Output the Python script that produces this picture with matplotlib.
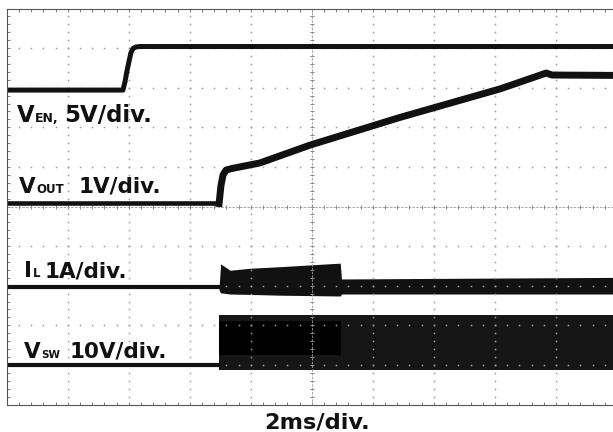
import numpy as np
import matplotlib.pyplot as plt

W, H = 613, 432  # output size in pixels (dpi 100)

# screen units: time in ms (2 ms/div, 10 div), vertical in divisions (0 = centre)
t_ven = [0, 3.81, 3.88, 3.94, 4.01, 4.07, 4.14, 4.24, 4.37, 20]
ven = [2.94, 2.94, 3.16, 3.42, 3.67, 3.88, 3.99, 4.03, 4.04, 4.04]

t_vout_off = [0, 6.96]
vout_off = [0.076, 0.076]
t_vout = [6.96, 7.02, 7.09, 7.19, 7.38, 8.30, 9.94, 12.89, 16.17, 17.68, 17.87, 20]
vout = [0.076, 0.52, 0.80, 0.92, 0.96, 1.10, 1.55, 2.25, 2.97, 3.37, 3.32, 3.31]

t_il_off = [0, 6.96]
il_off = [-2.04, -2.04]
t_il = [6.96, 7.01, 7.32, 7.97, 8.96, 10.93, 10.97, 20]
il_top = [-2.04, -1.45, -1.61, -1.56, -1.52, -1.43, -1.83, -1.79]
il_bot = [-2.12, -2.18, -2.21, -2.22, -2.24, -2.26, -2.21, -2.21]

t_vsw_off = [0, 6.96]
vsw_off = [-4.0, -4.0]
t_vsw = [6.96, 20]
vsw_top = [-2.73, -2.73]
vsw_bot = [-4.14, -4.14]
t_vsw_core = [6.96, 10.95]
vsw_core_top = [-2.88, -2.88]
vsw_core_bot = [-3.75, -3.75]

labels = [
    # (x px, baseline px, main, sub, rest, rest x px, size, sub size)
    (17, 121.7, "V", "EN,", "5V/div.", 64, 16.5, 9),
    (19, 192.7, "V", "OUT", "1V/div.", 79, 15.5, 8.5),
    (24, 277.3, "I", "L", "1A/div.", 45, 15.5, 8.5),
    (24, 357.7, "V", "SW", "10V/div.", 70, 15.5, 7.5),
]
xlabel = "2ms/div."

trace = '#111111'
grid_c = '#9a9a9a'

fig = plt.figure(figsize=(W / 100, H / 100), dpi=100)
left, right, top, bottom = 6.7, 617.0, 8.5, 404.5
ax = fig.add_axes([left / W, 1 - bottom / H, (right - left) / W, (bottom - top) / H])
ax.set_xlim(0, 20)
ax.set_ylim(-5, 5)

# graticule
ax.set_xticks(np.arange(0, 21, 2))
ax.set_yticks(np.arange(-5, 6, 1))
ax.set_xticks(np.arange(0, 20.01, 0.4), minor=True)
ax.set_yticks(np.arange(-5, 5.01, 0.2), minor=True)
ax.tick_params(which='both', direction='in', top=True, right=True,
               labelbottom=False, labelleft=False, color='#666666', width=0.6)
ax.tick_params(which='major', length=2.5)
ax.tick_params(which='minor', length=2.0)
for s in ax.spines.values():
    s.set_color('#555555')
    s.set_linewidth(0.8)

ymin = np.arange(-5, 5.01, 0.2)
xmin = np.arange(0, 20.01, 0.4)
for gx in range(2, 20, 2):
    if gx == 10:
        continue
    ax.plot(np.full_like(ymin, gx), ymin, ls='none', marker='s', ms=1.1,
            mew=0, color=grid_c)
for gy in range(-4, 5):
    if gy == 0:
        continue
    ax.plot(xmin, np.full_like(xmin, gy), ls='none', marker='s', ms=1.1,
            mew=0, color=grid_c)

# centre lines with small ticks
ax.axhline(0, color='#999999', lw=0.6, ls=(0, (3, 1.5)))
ax.axvline(10, color='#999999', lw=0.6, ls=(0, (3, 1.5)))
ax.plot(xmin, np.zeros_like(xmin), ls='none', marker='|', ms=3.5, mew=0.7, color='#888888')
ax.plot(np.full_like(ymin, 10), ymin, ls='none', marker='_', ms=3.5, mew=0.7, color='#888888')

# traces
ax.plot(t_ven, ven, color=trace, lw=3.6, solid_joinstyle='round')
ax.plot(t_vout_off, vout_off, color=trace, lw=3.3)
ax.plot(t_vout, vout, color=trace, lw=5.0, solid_joinstyle='round')
ax.plot(t_il_off, il_off, color=trace, lw=3.0)
ax.fill_between(t_il, il_bot, il_top, color=trace, lw=0)
ax.plot(t_vsw_off, vsw_off, color=trace, lw=3.0)
ax.fill_between(t_vsw, vsw_bot, vsw_top, color='#161616', lw=0)
ax.fill_between(t_vsw_core, vsw_core_bot, vsw_core_top, color='#000000', lw=0)

# channel labels
font = dict(family='DejaVu Sans', fontweight='bold', color='#111111', va='baseline', ha='left')
for x, y, main, sub, rest, rx, size, ssize in labels:
    t = fig.text(x / W, 1 - y / H, main, fontsize=size, **font)
    r = fig.canvas.get_renderer()
    bb = t.get_window_extent(r)
    fig.text((bb.x1 + 0.5) / W, 1 - y / H, sub, fontsize=ssize, **font)
    fig.text(rx / W, 1 - y / H, rest, fontsize=size, **font)

fig.text(317.3 / W, 1 - 429 / H, xlabel, fontsize=16.2, ha='center', va='baseline',
         family='DejaVu Sans', fontweight='bold', color='#111111')

fig.savefig('out.png', dpi=100, facecolor='white')
